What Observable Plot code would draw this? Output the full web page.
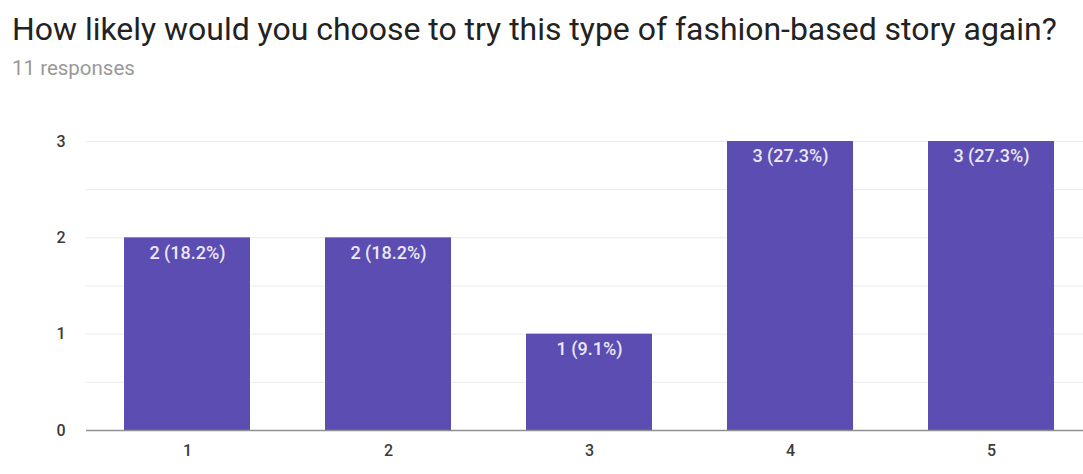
<!DOCTYPE html>
<html>
<head>
<meta charset="utf-8">
<script src="https://cdn.jsdelivr.net/npm/d3@7"></script>
<script src="https://cdn.jsdelivr.net/npm/@observablehq/plot@0.6"></script>
<style>
  html, body { margin: 0; padding: 0; background: #fff; width: 1083px; height: 474px; overflow: hidden; }
  #header { height: 90px; position: relative; font-family: Roboto, "Noto Sans", sans-serif; }
  #title { position: absolute; left: 12px; top: 14px; font-size: 27px; line-height: 1; color: #222; white-space: nowrap; }
  #subtitle { position: absolute; left: 12px; top: 58px; font-size: 15px; line-height: 1; color: #999; white-space: nowrap; }
  #chart svg { display: block; }
</style>
</head>
<body>
<div id="header">
  <div id="title">How likely would you choose to try this type of fashion-based story again?</div>
  <div id="subtitle">11 responses</div>
</div>
<div id="chart"></div>
<script>
const categories = ["1", "2", "3", "4", "5"];
const counts = [2, 2, 1, 3, 3];
const barLabels = ["2 (18.2%)", "2 (18.2%)", "1 (9.1%)", "3 (27.3%)", "3 (27.3%)"];
const yTicks = [0, 1, 2, 3];
const gridTicks = [0.5, 1, 1.5, 2, 2.5, 3];

const data = categories.map((c, i) => ({cat: c, n: counts[i], label: barLabels[i]}));

// size header text so its width matches the reference
function fit(id, targetWidth) {
  const el = document.getElementById(id);
  const fs = parseFloat(getComputedStyle(el).fontSize);
  const w = el.getBoundingClientRect().width;
  el.style.fontSize = (fs * targetWidth / w) + "px";
}
fit("title", 1045);
fit("subtitle", 123);

const chart = Plot.plot({
  width: 1083,
  height: 384,
  marginLeft: 86,
  marginRight: 0,
  marginTop: 51,
  marginBottom: 44,
  style: {fontFamily: "Roboto, 'Noto Sans', sans-serif", fontSize: "16px", color: "#3a3a3a", background: "#fff"},
  x: {domain: categories, range: [86, 1092], paddingInner: 0.373, paddingOuter: 0.1865, label: null},
  y: {domain: [0, 3], label: null},
  marks: [
    Plot.ruleY(gridTicks, {stroke: "#ebebeb", strokeWidth: 1}),
    Plot.ruleX([0], {x: () => null, stroke: "#ebebeb"}),
    Plot.barY(data, {x: "cat", y: "n", fill: "#5c4db2"}),
    Plot.text(data, {x: "cat", y: "n", text: "label", dy: 15, fill: "#ebe8f6", fontSize: 18, fontWeight: 500}),
    Plot.ruleY([0], {stroke: "#8f8f8f", strokeWidth: 1.5}),
    Plot.axisY({ticks: yTicks, tickFormat: "d", tickSize: 0, tickPadding: 21, fill: "#3a3a3a", fontSize: 16, fontWeight: 500}),
    Plot.axisX({tickSize: 0, tickPadding: 14, fill: "#3a3a3a", fontSize: 16, fontWeight: 500})
  ]
});
document.getElementById("chart").appendChild(chart);
</script>
</body>
</html>
